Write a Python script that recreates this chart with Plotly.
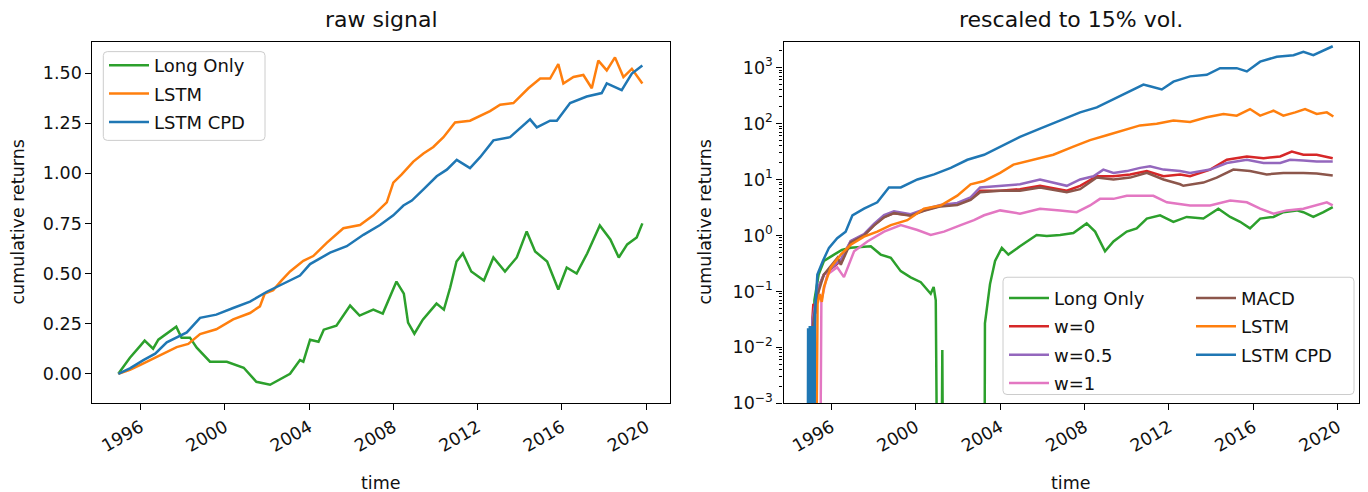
import plotly.graph_objects as go

# ---------------- data ----------------
# left panel: raw signal (decimal years, cumulative returns)
raw_long_t = [1994.95, 1995.5, 1996.0, 1996.2, 1996.6, 1996.85, 1997.7, 1997.95, 1998.35, 1998.67,
              1999.3, 2000.1, 2000.9, 2001.5, 2002.15, 2002.8, 2003.1, 2003.57, 2003.73, 2004.05,
              2004.45, 2004.7, 2005.3, 2005.95, 2006.4, 2007.05, 2007.5, 2008.15, 2008.5, 2008.7,
              2009.0, 2009.4, 2010.05, 2010.4, 2010.7, 2011.0, 2011.3, 2011.7, 2012.3, 2012.75,
              2013.3, 2013.86, 2014.33, 2014.73, 2015.3, 2015.83, 2016.23, 2016.7, 2017.2, 2017.8,
              2018.3, 2018.7, 2019.1, 2019.55, 2019.82]
raw_long_v = [0.0, 0.08, 0.14, 0.165, 0.125, 0.17, 0.235, 0.18, 0.18, 0.13,
              0.06, 0.06, 0.03, -0.04, -0.055, -0.02, 0.0, 0.068, 0.06, 0.17,
              0.16, 0.22, 0.24, 0.34, 0.29, 0.32, 0.30, 0.46, 0.40, 0.255,
              0.20, 0.27, 0.35, 0.32, 0.43, 0.56, 0.60, 0.51, 0.465, 0.58,
              0.51, 0.58, 0.71, 0.61, 0.56, 0.42, 0.53, 0.50, 0.60, 0.74,
              0.67, 0.58, 0.645, 0.68, 0.75]

raw_lstm_t = [1994.95, 1995.5, 1996.0, 1996.77, 1997.72, 1998.27, 1998.83, 1999.6, 2000.4, 2001.2,
              2001.67, 2001.9, 2002.3, 2002.7, 2003.1, 2003.73, 2004.2, 2004.84, 2005.63, 2006.42,
              2007.05, 2007.69, 2008.0, 2008.4, 2008.95, 2009.43, 2009.9, 2010.38, 2010.93, 2011.64,
              2012.12, 2012.59, 2013.07, 2013.7, 2014.41, 2014.97, 2015.44, 2015.83, 2016.07, 2016.55,
              2017.02, 2017.42, 2017.73, 2018.13, 2018.52, 2018.92, 2019.32, 2019.82]
raw_lstm_v = [0.0, 0.02, 0.044, 0.084, 0.133, 0.149, 0.198, 0.222, 0.271, 0.303,
              0.336, 0.40, 0.417, 0.466, 0.51, 0.563, 0.587, 0.653, 0.726, 0.742,
              0.79, 0.855, 0.953, 0.994, 1.058, 1.099, 1.131, 1.18, 1.253, 1.262,
              1.286, 1.31, 1.342, 1.35, 1.424, 1.472, 1.472, 1.545, 1.448, 1.48,
              1.49, 1.424, 1.562, 1.513, 1.578, 1.48, 1.521, 1.448]

raw_cpd_t = [1994.95, 1995.5, 1996.14, 1996.7, 1997.25, 1998.2, 1998.83, 1999.6, 2000.4, 2001.2,
             2002.0, 2002.78, 2003.57, 2004.05, 2005.0, 2005.79, 2006.58, 2007.37, 2008.0, 2008.48,
             2008.88, 2009.43, 2010.06, 2010.54, 2011.01, 2011.64, 2012.12, 2012.75, 2013.54, 2014.49,
             2014.81, 2015.44, 2015.76, 2016.39, 2017.18, 2017.89, 2018.13, 2018.84, 2019.32, 2019.82]
raw_cpd_v = [0.0, 0.027, 0.068, 0.10, 0.157, 0.206, 0.279, 0.295, 0.328, 0.36,
             0.409, 0.45, 0.49, 0.547, 0.604, 0.636, 0.693, 0.742, 0.79, 0.839,
             0.864, 0.92, 0.985, 1.018, 1.067, 1.026, 1.08, 1.164, 1.18, 1.269,
             1.229, 1.262, 1.262, 1.35, 1.383, 1.4, 1.448, 1.415, 1.497, 1.537]

# right panel: rescaled to 15% vol (log scale); 1e-6 marks values below the axis (<= 0)
BELOW = 1e-6
vol_long_t = [1995.05, 1995.2, 1995.4, 1995.65, 1996.13, 1996.5, 1996.92, 1997.87, 1998.34, 1998.82,
              1999.29, 1999.76, 2000.24, 2000.71, 2000.85, 2000.95, 2001.05, 2001.2, 2001.26, 2001.32,
              2003.25, 2003.28, 2003.52, 2003.76, 2004.08, 2004.39, 2004.94, 2005.73, 2006.21, 2006.84,
              2007.47, 2008.1, 2008.5, 2008.97, 2009.37, 2010.0, 2010.47, 2010.95, 2011.58, 2012.21,
              2012.84, 2013.63, 2014.34, 2014.9, 2015.37, 2015.84, 2016.32, 2016.95, 2017.42, 2018.05,
              2018.37, 2018.84, 2019.32, 2019.76]
vol_long_v = [BELOW, 0.07, 0.2, 0.35, 0.455, 0.55, 0.6, 0.64, 0.455, 0.4,
              0.23, 0.178, 0.146, 0.091, 0.12, 0.069, BELOW, BELOW, 0.009, BELOW,
              BELOW, 0.027, 0.135, 0.35, 0.6, 0.455, 0.64, 1.02, 0.98, 1.02,
              1.1, 1.64, 1.17, 0.52, 0.78, 1.17, 1.34, 2.0, 2.29, 1.75,
              2.14, 2.0, 3.0, 2.14, 1.75, 1.34, 2.0, 2.14, 2.6, 2.8,
              2.6, 2.14, 2.6, 3.2]

vol_w0_t = [1995.05, 1995.1, 1995.15, 1995.25, 1995.4, 1995.65, 1996.45, 1996.92, 1997.55, 1998.02,
            1998.5, 1998.97, 1999.76, 2000.39, 2001.18, 2001.97, 2002.6, 2003.05, 2004.0, 2004.94,
            2005.89, 2007.16, 2007.79, 2008.58, 2009.37, 2010.16, 2010.95, 2011.74, 2012.53, 2013.0,
            2013.95, 2014.74, 2015.69, 2016.48, 2017.27, 2017.82, 2018.37, 2019.0, 2019.76]
vol_w0_v = [BELOW, 0.03, 0.06, 0.04, 0.12, 0.2, 0.35, 0.78, 1.02, 1.53,
            2.14, 2.5, 2.29, 2.8, 3.4, 3.66, 4.5, 6.3, 6.3, 6.7,
            7.7, 6.3, 7.7, 11.4, 11.4, 12.3, 14.1, 11.4, 12.3, 11.4,
            15.0, 22.5, 25.7, 24.0, 25.7, 31.5, 27.6, 27.6, 24.0]

vol_w05_t = [1995.05, 1995.1, 1995.2, 1995.4, 1995.65, 1996.45, 1996.92, 1997.55, 1998.02, 1998.5,
             1998.97, 1999.76, 2000.39, 2001.18, 2001.97, 2002.6, 2003.05, 2004.0, 2004.94, 2005.89,
             2006.52, 2007.16, 2007.79, 2008.42, 2008.89, 2009.37, 2010.0, 2010.63, 2011.1, 2011.74,
             2012.53, 2013.0, 2013.95, 2014.74, 2015.69, 2016.48, 2017.27, 2017.74, 2018.37, 2019.0,
             2019.76]
vol_w05_v = [BELOW, 0.03, 0.05, 0.12, 0.2, 0.37, 0.8, 1.05, 1.6, 2.3,
             2.7, 2.4, 2.9, 3.5, 3.8, 4.8, 7.2, 7.7, 8.2, 10.0,
             8.8, 7.7, 10.0, 11.4, 15.0, 13.1, 14.1, 16.1, 17.2, 15.0,
             14.1, 13.1, 15.0, 19.7, 22.5, 19.7, 19.7, 22.5, 21.9, 21.0,
             21.0]

vol_w1_t = [1995.45, 1995.53, 1995.81, 1996.28, 1996.6, 1997.08, 1997.71, 1998.5, 1999.29, 2000.08,
            2000.71, 2001.34, 2002.13, 2002.76, 2003.24, 2004.0, 2004.94, 2005.89, 2006.84, 2007.63,
            2008.26, 2008.73, 2009.37, 2010.0, 2010.63, 2011.26, 2011.9, 2012.53, 2013.0, 2013.95,
            2014.9, 2015.69, 2016.32, 2016.95, 2017.58, 2018.37, 2019.0, 2019.48, 2019.76]
vol_w1_v = [BELOW, 0.069, 0.2, 0.27, 0.18, 0.52, 0.78, 1.17, 1.53, 1.25,
            1.02, 1.17, 1.53, 1.87, 2.29, 2.8, 2.45, 3.0, 2.8, 2.6,
            3.43, 4.5, 4.5, 5.1, 5.1, 5.1, 3.9, 3.66, 3.43, 3.43,
            4.2, 3.9, 3.0, 2.45, 2.8, 3.0, 3.43, 3.9, 3.43]

vol_macd_t = [1995.05, 1995.1, 1995.2, 1995.4, 1995.65, 1996.3, 1996.45, 1996.92, 1997.55, 1998.02,
              1998.5, 1998.97, 1999.76, 2000.39, 2001.18, 2001.97, 2002.6, 2003.05, 2004.0, 2004.94,
              2005.89, 2007.16, 2007.79, 2008.58, 2009.37, 2010.16, 2010.95, 2011.74, 2012.53, 2012.68,
              2013.63, 2014.26, 2015.05, 2015.84, 2016.63, 2017.42, 2018.37, 2019.0, 2019.76]
vol_macd_v = [BELOW, 0.02, 0.04, 0.1, 0.2, 0.4, 0.3, 0.75, 1.0, 1.5,
              2.1, 2.5, 2.25, 2.75, 3.3, 3.5, 4.3, 5.9, 6.3, 6.3,
              7.2, 5.9, 6.7, 10.8, 10.0, 10.8, 13.1, 10.0, 8.2, 7.7,
              8.8, 10.8, 15.0, 14.1, 12.3, 13.1, 13.1, 12.8, 11.8]

vol_lstm_t = [1995.25, 1995.35, 1995.45, 1995.55, 1995.65, 1995.97, 1996.45, 1996.92, 1997.55, 1998.18,
              1998.82, 1999.6, 2000.39, 2001.18, 2001.97, 2002.6, 2003.24, 2004.0, 2004.63, 2005.57,
              2006.52, 2007.47, 2008.26, 2009.05, 2009.84, 2010.63, 2011.42, 2012.21, 2013.0, 2013.79,
              2014.58, 2015.21, 2015.84, 2016.32, 2016.95, 2017.42, 2017.98, 2018.45, 2019.0, 2019.48,
              2019.79]
vol_lstm_v = [BELOW, 0.06, 0.09, 0.065, 0.119, 0.266, 0.455, 0.68, 0.95, 1.17,
              1.53, 1.87, 3.0, 3.43, 5.13, 8.2, 9.4, 13.1, 18.4, 22.5,
              27.6, 38.5, 50.5, 61.7, 75.6, 92.5, 98.6, 113, 106, 129,
              148, 138, 181, 138, 169, 138, 158, 181, 148, 158,
              133]

vol_cpd_t = [1994.88, 1994.9, 1994.92, 1994.94, 1994.96, 1994.98, 1995.0, 1995.02, 1995.04, 1995.06,
             1995.08, 1995.1, 1995.12, 1995.14, 1995.16, 1995.18, 1995.2, 1995.22, 1995.24, 1995.34,
             1995.6, 1995.89, 1996.28, 1996.68, 1997.0, 1997.55, 1998.18, 1998.73, 1999.29, 2000.08,
             2000.87, 2001.66, 2002.45, 2003.24, 2004.0, 2004.94, 2005.89, 2006.84, 2007.79, 2008.58,
             2009.53, 2010.16, 2010.79, 2011.1, 2011.66, 2012.21, 2013.0, 2013.79, 2014.42, 2015.21,
             2015.69, 2016.32, 2017.11, 2017.9, 2018.37, 2018.84, 2019.32, 2019.76]
vol_cpd_v = [BELOW, 0.022, BELOW, 0.02, BELOW, 0.024, BELOW, 0.022, BELOW, 0.024,
             BELOW, 0.02, BELOW, 0.024, BELOW, 0.022, BELOW, 0.024, 0.05, 0.2,
             0.35, 0.6, 0.89, 1.17, 2.29, 3.0, 3.9, 7.2, 7.2, 10.0,
             12.3, 16.1, 22.5, 27.6, 38.5, 57.7, 80.7, 113, 158, 194,
             290, 380, 496, 464, 406, 560, 695, 742, 973, 973,
             851, 1274, 1558, 1662, 1905, 1662, 2032, 2400]

year_ticks = [1996, 2000, 2004, 2008, 2012, 2016, 2020]
log_ticks = [1e-3, 1e-2, 1e-1, 1e0, 1e1, 1e2, 1e3]
log_tick_text = ["10<sup>\u22123</sup>", "10<sup>\u22122</sup>", "10<sup>\u22121</sup>",
                 "10<sup>0</sup>", "10<sup>1</sup>", "10<sup>2</sup>", "10<sup>3</sup>"]
lin_ticks = [0.0, 0.25, 0.5, 0.75, 1.0, 1.25, 1.5]
lin_tick_text = ["0.00", "0.25", "0.50", "0.75", "1.00", "1.25", "1.50"]

# ---------------- style ----------------
C_BLUE, C_ORANGE, C_GREEN = "#1f77b4", "#ff7f0e", "#2ca02c"
C_RED, C_PURPLE, C_BROWN, C_PINK = "#d62728", "#9467bd", "#8c564b", "#e377c2"
FONT = "DejaVu Sans"
TXT = "#111111"
W, H = 1368, 492
LW = 2.5


def px(x):
    return x / W


def py(y):
    return 1 - y / H


# axes boxes in pixels
L_X0, L_X1 = 92.4, 670.4
R_X0, R_X1 = 783.5, 1358.7
Y_TOP, Y_BOT = 42.7, 411.7

fig = go.Figure()

# left panel traces
for t, v, name, col in [(raw_long_t, raw_long_v, "Long Only", C_GREEN),
                        (raw_lstm_t, raw_lstm_v, "LSTM", C_ORANGE),
                        (raw_cpd_t, raw_cpd_v, "LSTM CPD", C_BLUE)]:
    fig.add_trace(go.Scatter(x=t, y=v, mode="lines", name=name, line=dict(color=col, width=LW),
                             xaxis="x", yaxis="y", legend="legend3", legendgroup="L_" + name))

# right panel traces
for t, v, name, col, leg in [(vol_long_t, vol_long_v, "Long Only", C_GREEN, "legend"),
                             (vol_w0_t, vol_w0_v, "w=0", C_RED, "legend"),
                             (vol_w05_t, vol_w05_v, "w=0.5", C_PURPLE, "legend"),
                             (vol_w1_t, vol_w1_v, "w=1", C_PINK, "legend"),
                             (vol_macd_t, vol_macd_v, "MACD", C_BROWN, "legend2"),
                             (vol_lstm_t, vol_lstm_v, "LSTM", C_ORANGE, "legend2"),
                             (vol_cpd_t, vol_cpd_v, "LSTM CPD", C_BLUE, "legend2")]:
    fig.add_trace(go.Scatter(x=t, y=v, mode="lines", name=name, line=dict(color=col, width=LW),
                             xaxis="x2", yaxis="y2", legend=leg, legendgroup="R_" + name))

tickfont = dict(family=FONT, size=17.5, color=TXT)
common_x = dict(showline=True, mirror=True, linecolor="black", linewidth=1.2, ticks="outside",
                ticklen=6, tickwidth=1.2, tickcolor="black", showgrid=False, zeroline=False,
                tickmode="array", tickvals=year_ticks, ticktext=[str(y) for y in year_ticks],
                tickangle=-30, tickfont=tickfont)
common_y = dict(showline=True, mirror=True, linecolor="black", linewidth=1.2, ticks="outside",
                ticklen=6, tickwidth=1.2, tickcolor="black", showgrid=False, zeroline=False,
                tickfont=tickfont)

minor_vals = []
for e in range(-3, 4):
    for m in range(2, 10):
        minor_vals.append(m * 10 ** e)

legfont = dict(family=FONT, size=18, color=TXT)
GAP = 2
fig.update_layout(
    width=W, height=H, autosize=False,
    margin=dict(l=0, r=0, t=0, b=0, pad=0),
    paper_bgcolor="white", plot_bgcolor="white",
    xaxis=dict(domain=[px(L_X0), px(L_X1)], range=[1993.72, 2021.15], anchor="y", **common_x),
    yaxis=dict(domain=[py(Y_BOT), py(Y_TOP)], range=[-0.1475, 1.6555], anchor="x",
               tickmode="array", tickvals=lin_ticks, ticktext=lin_tick_text, **common_y),
    xaxis2=dict(domain=[px(R_X0), px(R_X1)], range=[1993.735, 2020.99], anchor="y2", **common_x),
    yaxis2=dict(domain=[py(Y_BOT), py(Y_TOP)], type="log", range=[-3, 3.459], anchor="x2",
                tickmode="array", tickvals=log_ticks, ticktext=log_tick_text,
                minor=dict(tickmode="array", tickvals=minor_vals, ticks="outside", ticklen=3.5,
                           tickwidth=1, tickcolor="black", showgrid=False),
                **common_y),
    showlegend=True,
    legend3=dict(x=px(104), y=py(48), xanchor="left", yanchor="top", bgcolor="rgba(0,0,0,0)",
                 borderwidth=0, font=legfont, itemwidth=40, tracegroupgap=GAP, traceorder="grouped"),
    legend=dict(x=px(1004), y=py(285.5), xanchor="left", yanchor="top", bgcolor="rgba(0,0,0,0)",
                borderwidth=0, font=legfont, itemwidth=40, tracegroupgap=GAP, traceorder="grouped"),
    legend2=dict(x=px(1191), y=py(285.5), xanchor="left", yanchor="top", bgcolor="rgba(0,0,0,0)",
                 borderwidth=0, font=legfont, itemwidth=40, tracegroupgap=GAP, traceorder="grouped"),
)


def rounded_box(x0, y0, x1, y1, r=4):
    X0, X1 = px(x0), px(x1)
    Y0, Y1 = py(y0), py(y1)
    rx, ry = r / W, r / H
    return (f"M {X0 + rx},{Y0} L {X1 - rx},{Y0} Q {X1},{Y0} {X1},{Y0 - ry} "
            f"L {X1},{Y1 + ry} Q {X1},{Y1} {X1 - rx},{Y1} L {X0 + rx},{Y1} "
            f"Q {X0},{Y1} {X0},{Y1 + ry} L {X0},{Y0 - ry} Q {X0},{Y0} {X0 + rx},{Y0} Z")


fig.add_shape(type="path", path=rounded_box(103.3, 52.7, 265, 143.3), xref="paper", yref="paper",
              fillcolor="rgba(255,255,255,0.8)", line=dict(color="#cccccc", width=1), layer="above")
fig.add_shape(type="path", path=rounded_box(1003, 283, 1354, 402.7), xref="paper", yref="paper",
              fillcolor="rgba(255,255,255,0.8)", line=dict(color="#cccccc", width=1), layer="above")

ann = []
ann.append(dict(text="raw signal", x=px((L_X0 + L_X1) / 2), y=py(20), xref="paper", yref="paper",
                xanchor="center", yanchor="middle", showarrow=False,
                font=dict(family=FONT, size=22, color=TXT)))
ann.append(dict(text="rescaled to 15% vol.", x=px((R_X0 + R_X1) / 2), y=py(20), xref="paper",
                yref="paper", xanchor="center", yanchor="middle", showarrow=False,
                font=dict(family=FONT, size=22, color=TXT)))
for cx in [(L_X0 + L_X1) / 2, (R_X0 + R_X1) / 2]:
    ann.append(dict(text="time", x=px(cx), y=0, xref="paper", yref="paper",
                    xanchor="center", yanchor="bottom", yshift=-12, borderpad=0, showarrow=False,
                    font=dict(family=FONT, size=17.5, color=TXT)))
for cx in [18, 705]:
    ann.append(dict(text="cumulative returns", x=px(cx), y=py((Y_TOP + Y_BOT) / 2), xref="paper",
                    yref="paper", xanchor="center", yanchor="middle", textangle=-90,
                    showarrow=False, font=dict(family=FONT, size=17.5, color=TXT)))
fig.update_layout(annotations=ann)

fig.write_html("out.html")
